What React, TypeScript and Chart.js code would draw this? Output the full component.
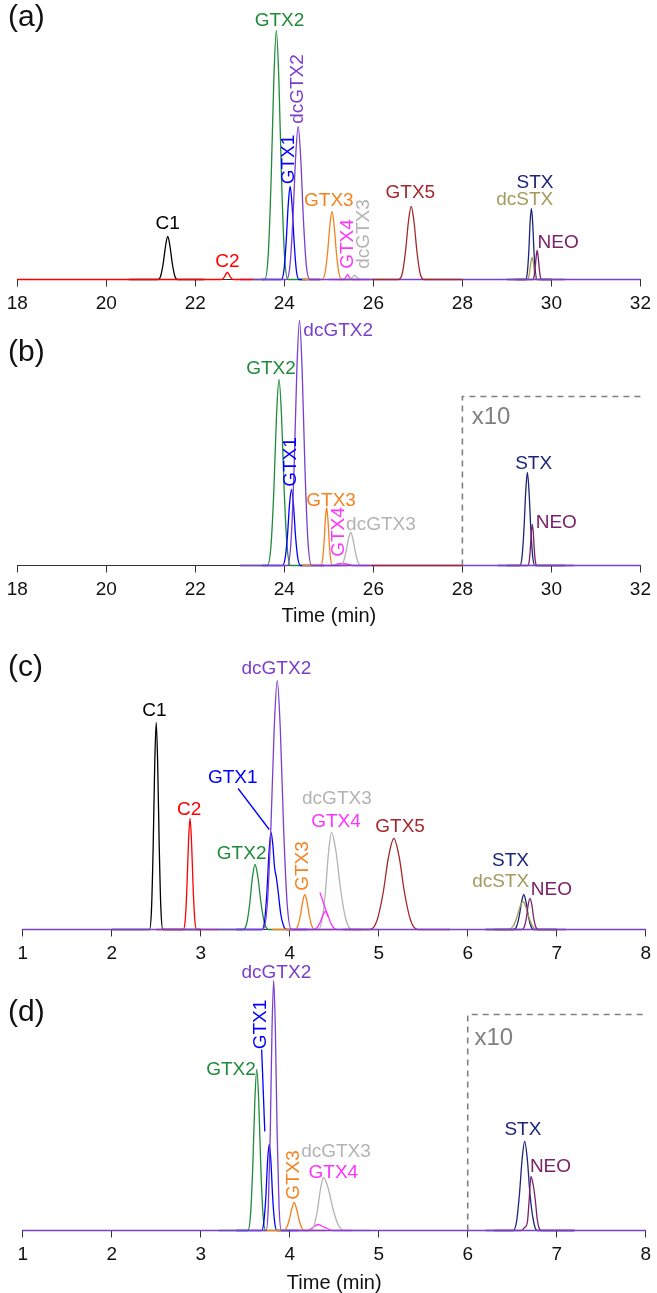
import React, { useEffect, useRef } from "react";
import { Chart, registerables } from "chart.js";
Chart.register(...registerables);

type P = [number, number][];
type Lab = [string, number, number, string, boolean?];

const FONT = '"Liberation Sans", Arial, sans-serif';

const COL: Record<string, string> = {
  C1: "#000000", C2: "#ff0000", GTX2: "#1f8b3b", GTX1: "#0000ff", dcGTX2: "#7b3fcf",
  GTX3: "#f5821f", GTX4: "#ff33ff", dcGTX3: "#b3b3b3", GTX5: "#a3282b",
  STX: "#1c2578", dcSTX: "#a39b5e", NEO: "#7b2169", BOX: "#808080",
};

// ---------- Panel (a): time 18–32 min ----------
const A_C1: P = [[20.5,0],[21.16,0],[21.226,4.3],[21.281,17],[21.332,34],[21.38,43],[21.428,34],[21.479,17],[21.534,4.3],[21.6,0],[22.2,0]];
const A_C2: P = [[18,0],[22.58,0],[22.62,0.7],[22.657,2.8],[22.69,5.6],[22.72,7],[22.75,5.6],[22.783,2.8],[22.82,0.7],[22.86,0],[23.3,0]];
const A_GTX2: P = [[23.3,0],[23.56,0],[23.638,25],[23.703,100],[23.763,199],[23.82,249],[23.877,199],[23.937,100],[24.002,25],[24.08,0],[24.5,0]];
const A_GTX1: P = [[23.5,0],[23.93,0],[23.99,9],[24.04,37],[24.086,74],[24.13,93],[24.174,74],[24.22,37],[24.27,9],[24.33,0],[24.8,0]];
const A_dcGTX2: P = [[23.0,0],[24.05,0],[24.128,15],[24.193,61],[24.253,122],[24.31,153],[24.367,122],[24.427,61],[24.492,15],[24.57,0],[32,0]];
const A_GTX3: P = [[24.4,0],[24.85,0],[24.916,7],[24.971,27],[25.022,54],[25.07,68],[25.118,54],[25.169,27],[25.224,7],[25.29,0],[25.7,0]];
const A_GTX4: P = [[25.0,0],[25.3,0],[25.36,1],[25.39,3],[25.42,5],[25.45,3],[25.48,1],[25.54,0],[25.9,0]];
const A_dcGTX3: P = [[25.2,0],[25.45,0],[25.52,2],[25.58,4],[25.64,2],[25.72,0],[26.0,0]];
const A_GTX5: P = [[25.98,0],[26.57,0],[26.654,7],[26.724,29],[26.788,58],[26.85,73],[26.912,58],[26.976,29],[27.046,7],[27.13,0],[28.0,0]];
const A_STX: P = [[29.0,0],[29.42,0],[29.459,7],[29.492,28],[29.521,57],[29.55,71],[29.579,57],[29.608,28],[29.641,7],[29.68,0],[30.0,0]];
const A_dcSTX: P = [[29.1,0],[29.455,0],[29.488,2],[29.515,9],[29.541,18],[29.565,22],[29.589,18],[29.615,9],[29.642,2],[29.675,0],[30.0,0]];
const A_NEO: P = [[29.2,0],[29.58,0],[29.61,3],[29.635,12],[29.658,23],[29.68,29],[29.702,23],[29.725,12],[29.75,3],[29.78,0],[30.3,0]];
const A_LABELS: Lab[] = [
  ["C1", 21.38, 55.5, "C1"], ["C2", 22.72, 17.5, "C2"], ["GTX2", 23.89, 258.5, "GTX2"],
  ["GTX1", 24.11, 120, "GTX1", true], ["dcGTX2", 24.31, 190.5, "dcGTX2", true],
  ["GTX3", 25.0, 78.5, "GTX3"], ["GTX4", 25.42, 35.5, "GTX4", true], ["dcGTX3", 25.78, 45.5, "dcGTX3", true],
  ["GTX5", 26.83, 86.5, "GTX5"], ["STX", 29.63, 96.5, "STX"], ["dcSTX", 29.4, 80, "dcSTX"], ["NEO", 30.15, 37, "NEO"],
];

// ---------- Panel (b): time 18–32 min ----------
const B_GTX2: P = [[23.0,0],[23.62,0],[23.698,19],[23.763,74],[23.823,149],[23.88,186],[23.937,149],[23.997,74],[24.062,19],[24.14,0],[24.6,0]];
const B_GTX1: P = [[23.5,0],[23.96,0],[24.02,8],[24.07,30],[24.116,61],[24.16,76],[24.204,61],[24.25,30],[24.3,8],[24.36,0],[24.9,0]];
const B_dcGTX2: P = [[23.0,0],[24.07,0],[24.151,25],[24.219,98],[24.281,196],[24.34,245],[24.399,196],[24.462,98],[24.529,25],[24.61,0],[32,0]];
const B_GTX3: P = [[24.4,0],[24.82,0],[24.859,6],[24.892,23],[24.921,46],[24.95,58],[24.979,46],[25.008,23],[25.041,6],[25.08,0],[25.4,0]];
const B_GTX4: P = [[24.8,0],[25.1,0],[25.2,1.5],[25.3,2],[25.4,1.5],[25.55,0],[25.9,0]];
const B_dcGTX3: P = [[25.0,0],[25.25,0],[25.322,3],[25.382,13],[25.437,26],[25.49,33],[25.543,26],[25.598,13],[25.658,3],[25.73,0],[26.0,0]];
const B_GTX5: P = [[25.95,0],[28.0,0]];
const B_STX: P = [[28.8,0],[29.29,0],[29.341,9],[29.384,37],[29.423,74],[29.46,93],[29.497,74],[29.537,37],[29.579,9],[29.63,0],[30.3,0]];
const B_NEO: P = [[29.0,0],[29.47,0],[29.5,4],[29.525,16],[29.548,33],[29.57,41],[29.592,33],[29.615,16],[29.64,4],[29.67,0],[30.5,0]];
const B_BOX: P = [[28,0],[28,169],[32,169]];
const B_LABELS: Lab[] = [
  ["GTX2", 23.7, 196.5, "GTX2"], ["GTX1", 24.14, 103.5, "GTX1", true], ["dcGTX2", 25.21, 235, "dcGTX2"],
  ["GTX3", 25.05, 65, "GTX3"], ["GTX4", 25.23, 33.5, "GTX4", true], ["dcGTX3", 26.17, 41, "dcGTX3"],
  ["STX", 29.6, 102, "STX"], ["NEO", 30.11, 42.5, "NEO"],
];

// ---------- Panel (c): time 1–8 min ----------
const C_C1: P = [[2.0,0],[2.425,0],[2.4475,21],[2.466,83],[2.4835,166],[2.5,207],[2.5165,166],[2.534,83],[2.5525,21],[2.575,0],[3.0,0]];
const C_C2: P = [[2.5,0],[2.805,0],[2.8275,11],[2.846,44],[2.8635,89],[2.88,111],[2.8965,89],[2.914,44],[2.9325,11],[2.955,0],[3.2,0]];
const C_GTX2: P = [[3.2,0],[3.48,0],[3.519,7],[3.551,26],[3.581,52],[3.61,65],[3.643,52],[3.678,26],[3.715,7],[3.76,0],[4.0,0]];
const C_GTX1: P = [[3.4,0],[3.69,0],[3.72,10],[3.745,39],[3.768,78],[3.79,97],[3.81,85],[3.83,62],[3.85,52],[3.87,38],[3.9,15],[3.93,4],[3.96,0],[4.2,0]];
const C_dcGTX2: P = [[1,0],[3.7,0],[3.748,25],[3.788,100],[3.825,199],[3.86,249],[3.895,199],[3.932,100],[3.972,25],[4.02,0],[8,0]];
const C_GTX3: P = [[3.8,0],[4.06,0],[4.093,4],[4.12,14],[4.146,28],[4.17,35],[4.194,28],[4.22,14],[4.247,4],[4.28,0],[4.5,0]];
const C_GTX4: P = [[4.0,0],[4.27,0],[4.309,2],[4.341,7],[4.371,14],[4.4,18],[4.429,14],[4.459,7],[4.491,2],[4.53,0],[4.8,0]];
const C_dcGTX3: P = [[4.0,0],[4.32,0],[4.365,10],[4.4025,39],[4.437,78],[4.47,97],[4.52,78],[4.5735,39],[4.631,10],[4.7,0],[5.0,0]];
const C_GTX5: P = [[4.6,0],[4.9,0],[4.981,9],[5.0485,36],[5.111,73],[5.17,91],[5.229,73],[5.2915,36],[5.359,9],[5.44,0],[5.8,0]];
const C_STX: P = [[6.2,0],[6.52,0],[6.553,4],[6.58,14],[6.606,28],[6.63,35],[6.654,28],[6.68,14],[6.707,4],[6.74,0],[7.0,0]];
const C_dcSTX: P = [[6.2,0],[6.46,0],[6.508,3],[6.548,11],[6.585,22],[6.62,28],[6.655,22],[6.692,11],[6.732,3],[6.78,0],[7.0,0]];
const C_NEO: P = [[6.3,0],[6.61,0],[6.637,3],[6.66,12],[6.68,25],[6.7,31],[6.72,25],[6.74,12],[6.763,3],[6.79,0],[7.1,0]];
const C_GTX1_LEADER: P = [[3.42,141],[3.77,100]];
const C_GTX4_LEADER: P = [[4.34,37],[4.43,13]];
const C_LABELS: Lab[] = [
  ["C1", 2.48, 218.5, "C1"], ["C2", 2.87, 120, "C2"], ["GTX1", 3.36, 151.5, "GTX1"],
  ["dcGTX2", 3.85, 260.5, "dcGTX2"], ["GTX2", 3.46, 75.5, "GTX2"], ["GTX3", 4.15, 63.5, "GTX3", true],
  ["dcGTX3", 4.53, 130.5, "dcGTX3"], ["GTX4", 4.52, 107.5, "GTX4"], ["GTX5", 5.24, 102.5, "GTX5"],
  ["STX", 6.48, 68.5, "STX"], ["dcSTX", 6.37, 47.5, "dcSTX"], ["NEO", 6.94, 40, "NEO"],
];

// ---------- Panel (d): time 1–8 min ----------
const D_GTX2: P = [[3.2,0],[3.53,0],[3.56,16],[3.585,64],[3.608,129],[3.63,161],[3.652,129],[3.675,64],[3.7,16],[3.73,0],[4.0,0]];
const D_GTX1: P = [[3.4,0],[3.685,0],[3.71,9],[3.732,34],[3.751,69],[3.77,86],[3.789,69],[3.808,34],[3.83,9],[3.855,0],[4.1,0]];
const D_dcGTX2: P = [[1,0],[3.735,0],[3.76,25],[3.782,100],[3.801,200],[3.82,250],[3.839,200],[3.858,100],[3.88,25],[3.905,0],[8,0]];
const D_GTX3: P = [[3.7,0],[3.93,0],[3.966,3],[3.996,11],[4.024,22],[4.05,28],[4.076,22],[4.104,11],[4.134,3],[4.17,0],[4.4,0]];
const D_GTX4: P = [[4.0,0],[4.2,0],[4.26,3],[4.32,6],[4.37,4],[4.42,2],[4.48,0],[4.7,0]];
const D_dcGTX3: P = [[4.0,0],[4.23,0],[4.275,5],[4.3125,21],[4.347,42],[4.38,53],[4.433,42],[4.488,21],[4.548,5],[4.62,0],[4.9,0]];
const D_STX: P = [[6.2,0],[6.51,0],[6.549,9],[6.581,36],[6.611,71],[6.64,89],[6.67,71],[6.7,36],[6.74,9],[6.78,0],[7.2,0]];
const D_NEO: P = [[6.3,0],[6.6,0],[6.64,3],[6.67,8],[6.69,30],[6.71,54],[6.735,46],[6.76,30],[6.78,12],[6.8,3],[6.83,0],[7.2,0]];
const D_GTX1_LEADER: P = [[3.685,181],[3.72,99]];
const D_BOX: P = [[6,0],[6,216],[8,216]];
const D_LABELS: Lab[] = [
  ["dcGTX2", 3.85, 257.5, "dcGTX2"], ["GTX1", 3.68, 206, "GTX1", true], ["GTX2", 3.34, 160.5, "GTX2"],
  ["GTX3", 4.05, 55.5, "GTX3", true], ["dcGTX3", 4.52, 78.5, "dcGTX3"], ["GTX4", 4.49, 57.5, "GTX4"],
  ["STX", 6.62, 101, "STX"], ["NEO", 6.93, 63.5, "NEO"],
];

type S = [string, P, boolean?]; // colour key, points, dashed?
type Extra = { text: string; t: number; v: number; size: number; color: string };
type Panel = {
  top: number; height: number; bottom: number; min: number; max: number; step: number;
  padL: number; padR: number; title: boolean; series: S[]; labels: Lab[]; extras: Extra[];
};

const PANELS: Panel[] = [
  {
    top: 0, height: 320, bottom: 279.5, min: 18, max: 32, step: 2, padL: 17.3, padR: 12, title: false,
    series: [["C1", A_C1], ["GTX2", A_GTX2], ["GTX1", A_GTX1], ["GTX3", A_GTX3], ["GTX4", A_GTX4], ["dcGTX3", A_dcGTX3],
      ["STX", A_STX], ["dcSTX", A_dcSTX], ["NEO", A_NEO], ["dcGTX2", A_dcGTX2], ["GTX5", A_GTX5], ["C2", A_C2]],
    labels: A_LABELS,
    extras: [{ text: "(a)", t: 17.79, v: 261.5, size: 30, color: "#111" }],
  },
  {
    top: 300, height: 326, bottom: 265.5, min: 18, max: 32, step: 2, padL: 17.3, padR: 12, title: true,
    series: [["GTX2", B_GTX2], ["GTX1", B_GTX1], ["GTX3", B_GTX3], ["GTX4", B_GTX4], ["dcGTX3", B_dcGTX3],
      ["STX", B_STX], ["NEO", B_NEO], ["dcGTX2", B_dcGTX2], ["GTX5", B_GTX5], ["BOX", B_BOX, true]],
    labels: B_LABELS,
    extras: [{ text: "(b)", t: 17.79, v: 212.5, size: 30, color: "#111" }, { text: "x10", t: 28.21, v: 148.5, size: 24, color: "#808080" }],
  },
  {
    top: 630, height: 335, bottom: 299.5, min: 1, max: 8, step: 1, padL: 22.7, padR: 7.7, title: false,
    series: [["C1", C_C1], ["C2", C_C2], ["GTX2", C_GTX2], ["GTX1", C_GTX1], ["GTX3", C_GTX3], ["dcGTX3", C_dcGTX3],
      ["GTX4", C_GTX4], ["GTX5", C_GTX5], ["STX", C_STX], ["dcSTX", C_dcSTX], ["NEO", C_NEO], ["dcGTX2", C_dcGTX2],
      ["GTX1", C_GTX1_LEADER], ["GTX4", C_GTX4_LEADER]],
    labels: C_LABELS,
    extras: [{ text: "(c)", t: 0.836, v: 261.5, size: 30, color: "#111" }],
  },
  {
    top: 960, height: 333, bottom: 270.5, min: 1, max: 8, step: 1, padL: 22.7, padR: 7.7, title: true,
    series: [["GTX2", D_GTX2], ["GTX1", D_GTX1], ["GTX3", D_GTX3], ["GTX4", D_GTX4], ["dcGTX3", D_dcGTX3],
      ["STX", D_STX], ["NEO", D_NEO], ["dcGTX2", D_dcGTX2], ["GTX1", D_GTX1_LEADER], ["BOX", D_BOX, true]],
    labels: D_LABELS,
    extras: [{ text: "(d)", t: 0.836, v: 218, size: 30, color: "#111" }, { text: "x10", t: 6.076, v: 192.5, size: 24, color: "#808080" }],
  },
];

function PanelChart({ p }: { p: Panel }) {
  const ref = useRef<HTMLCanvasElement | null>(null);
  useEffect(() => {
    if (!ref.current) return;
    const datasets = p.series.map(([key, pts, dashed]) => ({
      data: pts.map(([x, y]) => ({ x, y })),
      borderColor: COL[key],
      borderWidth: dashed ? 1.6 : 1.3,
      borderDash: dashed ? [6, 5] : [],
      pointRadius: 0,
      fill: false,
      clip: false as any,
      cubicInterpolationMode: dashed || pts.length <= 2 ? ("default" as const) : ("monotone" as const),
      tension: 0,
    })).reverse();

    const labelPlugin = {
      id: "peakLabels",
      afterDatasetsDraw(chart: any) {
        const ctx = chart.ctx as CanvasRenderingContext2D;
        const xs = chart.scales.x, ys = chart.scales.y;
        ctx.save();
        for (const [text, t, v, key, rot] of p.labels) {
          const x = xs.getPixelForValue(t), y = ys.getPixelForValue(v);
          ctx.font = `19px ${FONT}`;
          ctx.fillStyle = COL[key];
          ctx.textAlign = "center";
          ctx.textBaseline = "middle";
          ctx.save();
          ctx.translate(x, y);
          if (rot) ctx.rotate(-Math.PI / 2);
          ctx.fillText(text, 0, 0);
          ctx.restore();
        }
        for (const e of p.extras) {
          const x = xs.getPixelForValue(e.t), y = ys.getPixelForValue(e.v);
          ctx.font = `${e.size}px ${FONT}`;
          ctx.fillStyle = e.color;
          ctx.textAlign = "left";
          ctx.textBaseline = "middle";
          ctx.fillText(e.text, x, y);
        }
        ctx.restore();
      },
    };

    const axisH = p.height - p.bottom;
    const chart = new Chart(ref.current, {
      type: "line",
      data: { datasets: datasets as any },
      options: {
        animation: false,
        responsive: false,
        maintainAspectRatio: false,
        layout: { padding: { left: p.padL, right: p.padR, top: 0, bottom: 0 } },
        plugins: { legend: { display: false }, tooltip: { enabled: false } },
        scales: {
          x: {
            type: "linear",
            min: p.min,
            max: p.max,
            afterFit: (scale: any) => { scale.height = axisH; },
            ticks: {
              stepSize: p.step, autoSkip: false, maxRotation: 0, minRotation: 0,
              color: "#111", font: { size: 19, family: FONT }, padding: 6,
            },
            grid: { display: true, drawOnChartArea: false, drawTicks: true, tickLength: 7, color: "#333", lineWidth: 1, z: -1 },
            border: { display: true, color: "#333", width: 1, z: -1 },
            title: {
              display: p.title, text: "Time (min)", color: "#111",
              font: { size: 20, family: FONT, lineHeight: 1 }, padding: 0,
            },
          },
          y: { display: false, min: 0, max: p.bottom },
        },
      },
      plugins: [labelPlugin],
    });
    return () => chart.destroy();
  }, [p]);
  return (
    <canvas
      ref={ref}
      width={657}
      height={p.height}
      style={{ position: "absolute", left: 0, top: p.top, width: 657, height: p.height, display: "block" }}
    />
  );
}

export default function App() {
  return (
    <div style={{ position: "absolute", left: 0, top: 0, width: 657, height: 1293, background: "#fff", overflow: "hidden" }}>
      {PANELS.map((p, i) => (
        <PanelChart key={i} p={p} />
      ))}
    </div>
  );
}
